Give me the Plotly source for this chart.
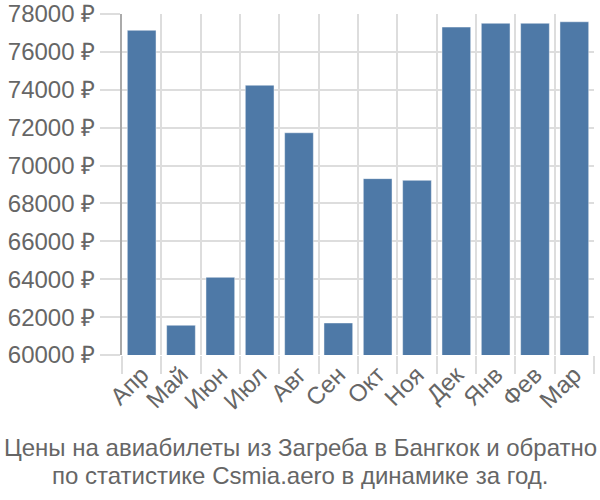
import plotly.graph_objects as go

months = ["Апр", "Май", "Июн", "Июл", "Авг", "Сен", "Окт", "Ноя", "Дек", "Янв", "Фев", "Мар"]
prices = [77140, 61570, 64100, 74240, 71730, 61690, 69310, 69220, 77310, 77510, 77510, 77590]
y_ticks = [60000, 62000, 64000, 66000, 68000, 70000, 72000, 74000, 76000, 78000]
y_labels = [f"{v} ₽" for v in y_ticks]
title_lines = ["Цены на авиабилеты из Загреба в Бангкок и обратно",
               "по статистике Csmia.aero в динамике за год."]

fig = go.Figure(go.Bar(
    x=months, y=prices,
    marker=dict(color="#4e79a7", line=dict(color="rgba(255,255,255,0.45)", width=1)),
))

font_fam = "Liberation Sans, Arial, sans-serif"
FS = 24
fig.update_layout(
    width=600, height=500,
    margin=dict(l=122, r=6, t=14, b=145, autoexpand=False),
    paper_bgcolor="white", plot_bgcolor="white",
    bargap=0.27,
    showlegend=False,
    font=dict(family=font_fam, color="#666666", size=FS),
    xaxis=dict(
        type="category", tickson="boundaries", ticks="outside", ticklen=18,
        tickcolor="#dddddd", tickwidth=2, showgrid=True, gridcolor="#dddddd", gridwidth=2,
        tickangle=-45, tickfont=dict(size=FS, color="#666666"),
        showline=False, zeroline=False, automargin=False,
    ),
    yaxis=dict(
        range=[60000, 78000], tickvals=y_ticks, ticktext=y_labels,
        ticks="outside", ticklen=20, tickcolor="#dddddd", tickwidth=2,
        showgrid=True, gridcolor="#dddddd", gridwidth=2,
        showline=True, linecolor="#aaaaaa", linewidth=2,
        tickfont=dict(size=FS, color="#666666"), zeroline=False, automargin=False,
    ),
)
centers_px = [447, 475]
for line, cy in zip(title_lines, centers_px):
    fig.add_annotation(
        text=line, x=(300 - 122) / 472, xref="paper", xanchor="center",
        y=(355 - cy) / 341, yref="paper", yanchor="middle", showarrow=False,
        font=dict(size=FS, color="#666666", family=font_fam),
    )
fig.write_html("out.html")
